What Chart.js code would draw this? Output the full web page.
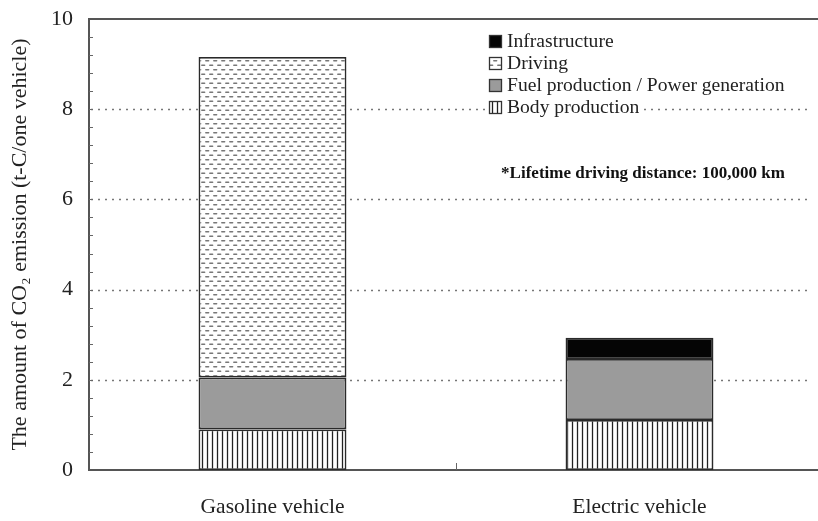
<!DOCTYPE html>
<html>
<head>
<meta charset="utf-8">
<script src="https://cdn.jsdelivr.net/npm/chart.js@4.4.1/dist/chart.umd.min.js"></script>
<style>
  html, body { margin: 0; padding: 0; background: #fff; overflow: hidden; width: 818px; height: 521px; }
  canvas { display: block; }
</style>
</head>
<body>
<canvas id="c" width="824" height="521"></canvas>
<script>
// ---- data ----
const categories = ['Gasoline vehicle', 'Electric vehicle'];
const bodyProduction = [0.90, 1.11];
const fuelProduction = [1.15, 1.35];
const drivingEmission = [7.11, null];
const infrastructure = [null, 0.47];
const yTickValues = [0, 2, 4, 6, 8, 10];
const gridValues = [2, 4, 6, 8];
const seriesNames = ['Body production', 'Fuel production / Power generation', 'Driving', 'Infrastructure'];
const yTitle = 'The amount of CO\u2082 emission (t-C/one vehicle)';
const note = '*Lifetime driving distance: 100,000 km';

const SERIF = "'Liberation Serif', 'Times New Roman', serif";

function makePattern(w, h, draw) {
  const t = document.createElement('canvas');
  t.width = w; t.height = h;
  const c = t.getContext('2d');
  c.fillStyle = '#fff'; c.fillRect(0, 0, w, h);
  draw(c);
  return document.getElementById('c').getContext('2d').createPattern(t, 'repeat');
}
const bodyPat = makePattern(5, 10, c => {
  c.strokeStyle = '#222'; c.lineWidth = 1.3;
  c.beginPath(); c.moveTo(2.5, 0); c.lineTo(2.5, 10); c.stroke();
});
const drivePat = makePattern(8, 9, c => {
  c.strokeStyle = '#777'; c.lineWidth = 1.5; c.lineCap = 'round';
  c.beginPath(); c.moveTo(1.8, 2.2); c.lineTo(4.6, 2.2); c.stroke();
  c.beginPath(); c.moveTo(5.8, 6.7); c.lineTo(8.6, 6.7); c.stroke();
  c.beginPath(); c.moveTo(-2.2, 6.7); c.lineTo(0.6, 6.7); c.stroke();
});
const fills = [bodyPat, '#9b9b9b', drivePat, '#050505'];
const seriesValues = [bodyProduction, fuelProduction, drivingEmission, infrastructure];

const decor = {
  id: 'decor',
  beforeDatasetsDraw(chart) {
    const { ctx, chartArea: a, scales: { y } } = chart;
    ctx.save();
    ctx.setLineDash([2, 5]);
    ctx.strokeStyle = '#777';
    ctx.lineWidth = 1.6;
    gridValues.forEach(v => {
      const py = Math.round(y.getPixelForValue(v)) + 0.5;
      ctx.beginPath(); ctx.moveTo(a.left + 2, py); ctx.lineTo(a.right - 12, py); ctx.stroke();
    });
    ctx.restore();
  },
  afterDraw(chart) {
    const { ctx, chartArea: a, scales: { x, y } } = chart;
    ctx.save();
    // top frame line
    ctx.strokeStyle = '#555'; ctx.lineWidth = 2;
    ctx.beginPath(); ctx.moveTo(a.left - 1, a.top); ctx.lineTo(a.right + 5, a.top); ctx.stroke();
    // minor ticks (inward)
    ctx.lineWidth = 1; ctx.strokeStyle = '#666';
    for (let k = 1; k < 25; k++) {
      const py = Math.round(y.getPixelForValue(k * 0.4)) + 0.5;
      ctx.beginPath(); ctx.moveTo(a.left, py); ctx.lineTo(a.left + 4, py); ctx.stroke();
    }
    // category separator tick
    const sx = Math.round((x.getPixelForValue(0) + x.getPixelForValue(1)) / 2) + 0.5;
    ctx.beginPath(); ctx.moveTo(sx, a.bottom); ctx.lineTo(sx, a.bottom - 7); ctx.stroke();
    // legend
    const order = [3, 2, 1, 0];
    const rows = [41, 63, 85, 107];
    ctx.font = '19.6px ' + SERIF;
    ctx.textBaseline = 'middle';
    ctx.textAlign = 'left';
    order.forEach((di, i) => {
      const cy = rows[i];
      const bx = 489, by = cy - 6, bs = 13;
      const label = chart.data.datasets[di].label;
      const tw = ctx.measureText(label).width;
      ctx.fillStyle = '#fff';
      ctx.fillRect(bx - 3, cy - 10, tw + 24, 21);
      ctx.fillStyle = fills[di];
      ctx.fillRect(bx, by, bs, bs);
      ctx.strokeStyle = '#333'; ctx.lineWidth = 1.3;
      ctx.strokeRect(bx + 0.5, by + 0.5, bs - 1, bs - 1);
      ctx.fillStyle = '#222';
      ctx.fillText(label, 507, cy + 1);
    });
    // note
    ctx.font = 'bold 17px ' + SERIF;
    ctx.textAlign = 'center';
    ctx.fillStyle = '#111';
    ctx.fillText(note, 643, 174);
    ctx.restore();
  }
};

new Chart(document.getElementById('c'), {
  type: 'bar',
  data: {
    labels: categories,
    datasets: seriesValues.map((vals, i) => ({
      label: seriesNames[i],
      data: vals,
      backgroundColor: fills[i],
      borderColor: '#2a2a2a',
      borderWidth: 1.8,
      borderSkipped: false,
      categoryPercentage: 1,
      barPercentage: 0.403
    }))
  },
  options: {
    responsive: false,
    animation: false,
    layout: { padding: { top: 19, right: 1, left: 0, bottom: 0 } },
    plugins: { legend: { display: false }, tooltip: { enabled: false } },
    scales: {
      x: {
        stacked: true,
        grid: { display: false, drawTicks: false },
        border: { display: true, color: '#555', width: 2 },
        ticks: { font: { family: SERIF, size: 21.5 }, color: '#222', padding: 24 },
        afterFit(s) { s.height = 51; s.paddingLeft = 0; s.paddingRight = 0; }
      },
      y: {
        stacked: true,
        min: 0, max: 10,
        afterBuildTicks(s) { s.ticks = yTickValues.map(v => ({ value: v })); },
        grid: { display: false, drawTicks: false },
        border: { display: true, color: '#555', width: 2 },
        ticks: { font: { family: SERIF, size: 22 }, color: '#222', padding: 16 },
        title: { display: true, text: yTitle, font: { family: SERIF, size: 22 }, color: '#222', padding: { top: 7, bottom: 0 } },
        afterFit(s) { s.width = 89; s.paddingTop = 0; s.paddingBottom = 0; }
      }
    }
  },
  plugins: [decor]
});
</script>
</body>
</html>
